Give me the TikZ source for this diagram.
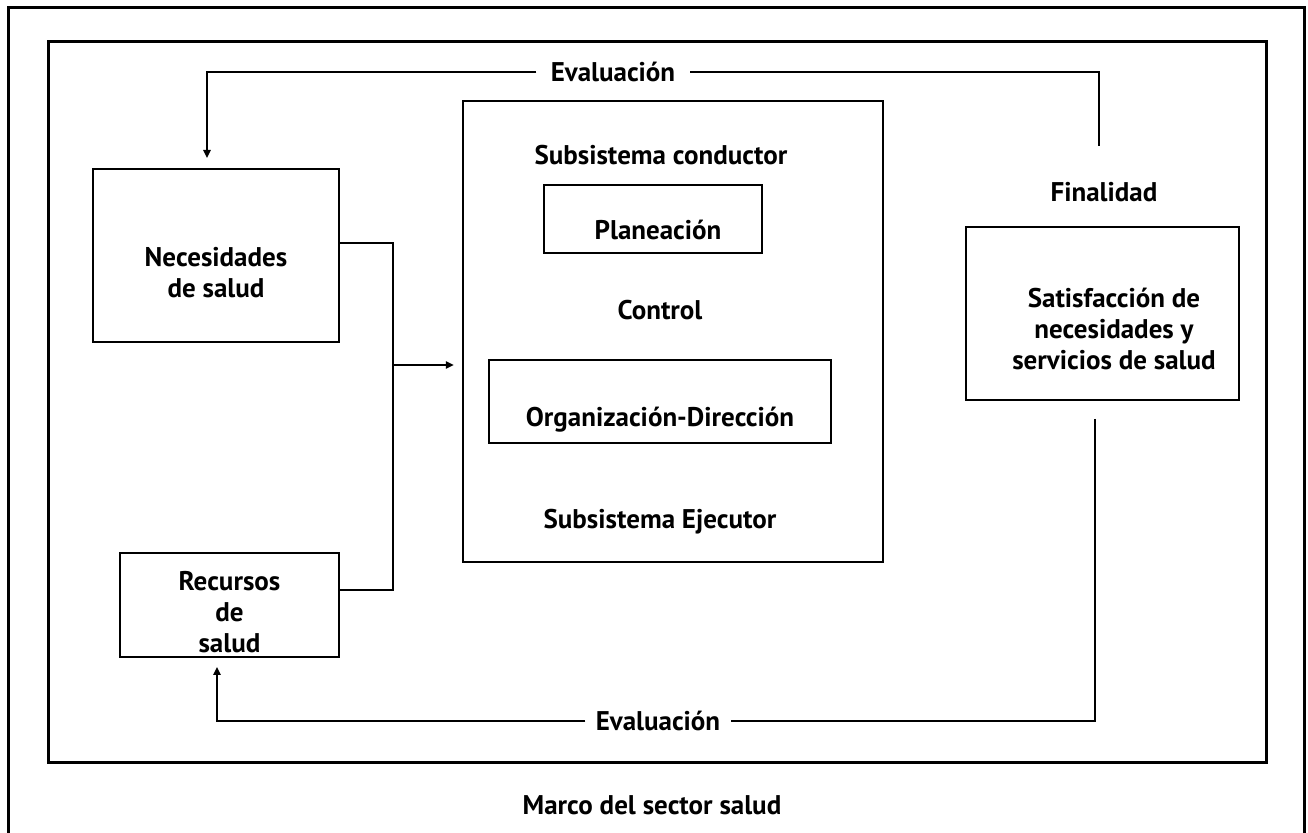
\documentclass[tikz,border=0pt]{standalone}
\usepackage{fontspec}
\setmainfont{PT Sans}
\usetikzlibrary{arrows.meta}

\tikzset{
  frame/.style={line width=1.5pt},
  box/.style={draw, line width=1.2pt, inner sep=0pt},
  link/.style={line width=0.9pt},
  tip/.style={-{Triangle[length=4pt,width=3.6pt]}},
  txt/.style={font=\fontsize{13.5}{15.5}\selectfont\bfseries, align=center, inner sep=0pt}
}

\begin{document}
\begin{tikzpicture}[x=0.5pt,y=-0.5pt]
    \useasboundingbox (0,0) rectangle (1308,833);

    % Draw the frames
    \draw[frame] (8,840) -- (8,8) -- (1304,8) -- (1304,840);
    \draw[frame] (48,42) rectangle (1266,763);

    % Draw the boxes
    \node[box, minimum width=123pt, minimum height=86.5pt] (nec) at (216,255.5) {};
    \node[txt] (nectxt) at (216,273) {Necesidades\\de salud};
    \node[box, minimum width=109.5pt, minimum height=52pt] (rec) at (229.5,605) {};
    \node[txt] (rectxt) at (229.5,612) {Recursos\\de\\salud};
    \node[box, minimum width=210pt, minimum height=230.5pt] (sub) at (673,331.5) {};
    \node[box, minimum width=109pt, minimum height=34pt] (plan) at (653,219) {};
    \node[box, minimum width=171pt, minimum height=41.5pt] (org) at (660,401.5) {};
    \node[box, minimum width=136.5pt, minimum height=86.5pt] (sat) at (1102.5,313.5) {};

    % Label the texts
    \node[txt] (cond) at (661,155) {Subsistema conductor};
    \node[txt] (plantxt) at (658,230) {Planeación};
    \node[txt] (ctrl) at (660,310) {Control};
    \node[txt] (orgtxt) at (660,420) {Organización-Dirección};
    \node[txt] (ejec) at (660,522) {Subsistema Ejecutor};
    \node[txt] (fin) at (1104,192) {Finalidad};
    \node[txt] (sattxt) at (1114,329) {Satisfacción de\\necesidades y\\servicios de salud};
    \node[txt, inner xsep=7pt] (evtop) at (613,72) {Evaluación};
    \node[txt, inner xsep=5pt] (evbot) at (658,721) {Evaluación};
    \node[txt] (marco) at (652,805) {Marco del sector salud};

    % Draw the connectors
    \coordinate (topend) at (1099,146);
    \coordinate (botend) at (1095,419);
    \coordinate (join) at (393,365);
    \draw[link] (topend) |- (evtop.east);
    \draw[link, tip] (evtop.west) -| (207,158);
    \draw[link] (botend) |- (evbot.east);
    \draw[link, tip] (evbot.west) -| (217,667);
    \draw[link] (nec.east |- 0,243) -| (join) |- (rec.east |- 0,590);
    \draw[link, tip] (join) -- ([xshift=-4pt]sub.west |- join);
\end{tikzpicture}
\end{document}
